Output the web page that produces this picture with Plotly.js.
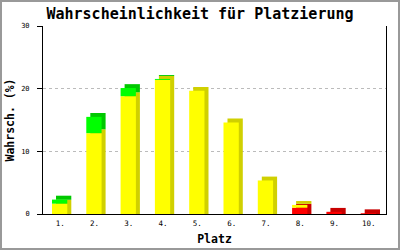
<!DOCTYPE html>
<html>
<head>
<meta charset="utf-8">
<script src="https://cdn.plot.ly/plotly-3.0.1.min.js"></script>
<style>
  html, body { margin: 0; padding: 0; background: #fff; }
  #wrap { position: relative; width: 400px; height: 250px; }
  #chart { width: 400px; height: 250px; }
  #frame { position: absolute; left: 0; top: 0; width: 400px; height: 250px; box-sizing: border-box; border: 2px solid #999; pointer-events: none; }
</style>
</head>
<body>
<div id="wrap"><div id="chart"></div><div id="frame"></div></div>
<script>
// Data (percent)
const categories = ["1.", "2.", "3.", "4.", "5.", "6.", "7.", "8.", "9.", "10."];
const redValues    = [0, 0, 0, 0, 0, 0, 0, 1.0, 0.35, 0.12];
const yellowValues = [1.65, 12.9, 18.8, 21.4, 19.65, 14.6, 5.35, 0.45, 0, 0];
const greenValues  = [0.65, 2.6, 1.3, 0.15, 0, 0, 0, 0, 0, 0];
const yTicks = [0, 10, 20, 30];

const series = [
  { vals: redValues,    front: "#ff0000", side: "#c80000" },
  { vals: yellowValues, front: "#ffff00", side: "#d0d000" },
  { vals: greenValues,  front: "#00ff00", side: "#00c800" }
];

const depthY = 0.62;     // 3D depth in data units (vertical)
const depthX = 0.117;    // 3D depth in category units (horizontal)
const barW = 0.446;
const barOff = -0.238;

const xIdx = categories.map((c, i) => i);
const cum = categories.map(() => 0);
const shadowTraces = [];
const frontTraces = [];
series.forEach((s, k) => {
  const base = cum.slice();
  const top = base.map((b, i) => b + s.vals[i]);
  const shadowBase = base.map((b, i) => (b === 0 ? 0 : b + depthY));
  const shadowTop = top.map(t => t + depthY);
  const mask = s.vals.map(v => v > 0);
  shadowTraces.push({
    type: "bar", x: xIdx.filter((_, i) => mask[i]),
    y: shadowTop.map((t, i) => t - shadowBase[i]).filter((_, i) => mask[i]),
    base: shadowBase.filter((_, i) => mask[i]),
    width: barW, offset: barOff + depthX,
    marker: { color: s.side, line: { width: 0 } },
    hoverinfo: "skip", showlegend: false
  });
  frontTraces.push({
    type: "bar", x: xIdx.filter((_, i) => mask[i]),
    y: s.vals.filter((_, i) => mask[i]),
    base: base.filter((_, i) => mask[i]),
    width: barW, offset: barOff,
    marker: { color: s.front, line: { width: 0 } },
    showlegend: false
  });
  top.forEach((t, i) => cum[i] = t);
});

const mono = "DejaVu Sans Mono, monospace";
const layout = {
  width: 400, height: 250,
  margin: { l: 43, r: 14, t: 26, b: 36, pad: 0 },
  paper_bgcolor: "#ffffff", plot_bgcolor: "#ffffff",
  barmode: "overlay",
  showlegend: false,
  title: {
    text: "<b>Wahrscheinlichkeit für Platzierung</b>",
    font: { family: mono, size: 15, color: "#000" },
    x: 0.5, xref: "container", xanchor: "center",
    y: 1 - 14 / 250, yref: "container", yanchor: "middle"
  },
  xaxis: {
    type: "linear", range: [-0.5, 9.5],
    tickvals: xIdx, ticktext: categories,
    showgrid: false, zeroline: false,
    showline: true, linecolor: "#000", linewidth: 1,
    ticks: "", ticklabelstandoff: 2,
    tickfont: { family: mono, size: 7.5, color: "#000" },
    title: { text: "<b>Platz</b>", font: { family: mono, size: 11.5, color: "#000" }, standoff: 7 }
  },
  yaxis: {
    range: [0, 30], tickvals: yTicks, ticktext: yTicks.map(String),
    showgrid: true, gridcolor: "#bbbbbb", griddash: "3px,3px", gridwidth: 1,
    zeroline: false,
    showline: true, linecolor: "#000", linewidth: 1, mirror: true,
    ticks: "outside", ticklen: 5, tickcolor: "#000", tickwidth: 1,
    ticklabelstandoff: 6,
    tickfont: { family: mono, size: 7, color: "#000" },
    title: { text: "<b>Wahrsch. (%)</b>", font: { family: mono, size: 11.5, color: "#000" }, standoff: 4 }
  }
};

Plotly.newPlot("chart", shadowTraces.concat(frontTraces), layout, { staticPlot: true, displayModeBar: false });
</script>
</body>
</html>
